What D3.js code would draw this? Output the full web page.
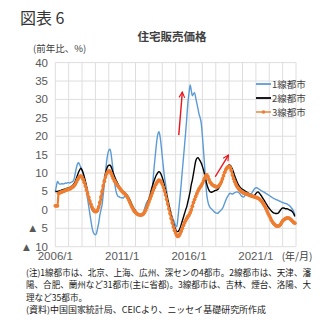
<!DOCTYPE html>
<html lang="ja">
<head>
<meta charset="UTF-8">
<title>住宅販売価格</title>
<style>
    body { margin: 0; background: #fff; }
    text { font-family: "Liberation Sans", Arial, "Noto Sans CJK JP", sans-serif; }
    .jp { font-family: "Noto Sans CJK JP", sans-serif; }
</style>
</head>
<body>
<script src="https://cdn.jsdelivr.net/npm/d3@7"></script>
<script>
    // monthly series, 2006/1 .. 2023/12 (前年比, %)
    var tier1 = [
        5.0, 6.5, 7.7, 7.3, 7.0, 7.0, 7.2, 7.0, 7.1, 7.3, 7.2, 7.4,
        7.4, 7.3, 7.5, 7.6, 7.8, 8.5, 10.0, 11.5, 12.5, 12.8, 12.2, 11.5,
        10.8, 9.8, 8.5, 6.8, 5.0, 3.0, 1.0, -1.0, -3.0, -4.8, -6.0, -6.6,
        -6.8, -6.3, -5.0, -3.5, -1.5, 0.0, 1.3, 4.0, 7.0, 10.0, 13.0, 15.0,
        16.2, 16.5, 15.5, 13.0, 10.5, 8.0, 6.0, 4.5, 3.8, 3.6, 3.4, 3.3,
        3.3, 3.2, 3.6, 4.2, 4.0, 3.6, 3.0, 2.4, 1.6, 0.9, 0.3, -0.3,
        -0.7, -1.0, -1.2, -1.3, -1.3, -1.2, -1.0, -0.6, 0.2, 1.2, 2.0, 2.5,
        2.5, 3.0, 4.0, 5.5, 9.0, 12.5, 15.5, 18.5, 20.5, 21.2, 20.0, 17.5,
        14.5, 11.5, 9.0, 7.0, 5.0, 3.0, 1.5, 0.3, -1.0, -2.0, -2.7, -3.5,
        -4.3, -4.6, -2.5, 0.5, 3.5, 7.0, 10.5, 14.0, 17.5, 21.0, 25.0, 29.0,
        31.7, 33.9, 32.5, 31.0, 31.5, 31.8, 30.5, 29.0, 27.5, 26.0, 25.0, 23.5,
        20.0, 16.0, 12.0, 7.5, 4.0, 2.2, 1.2, 0.6, 0.3, 0.0, -0.3, -0.6,
        -0.8, -0.9, -0.9, -0.6, -0.3, 0.0, 0.4, 1.0, 1.8, 2.6, 3.3, 3.8,
        4.3, 4.5, 4.4, 4.3, 4.5, 4.7, 4.8, 4.9, 4.8, 4.6, 4.2, 3.8,
        3.6, 3.5, 3.8, 4.2, 4.1, 3.9, 3.8, 4.0, 4.4, 4.9, 5.4, 5.8,
        6.0, 6.0, 5.8, 5.6, 5.4, 5.2, 5.0, 4.9, 4.7, 4.5, 4.3, 4.1,
        3.9, 3.7, 3.5, 3.3, 3.1, 3.0, 2.8, 2.7, 2.6, 2.4, 2.3, 2.1,
        2.0, 1.9, 1.8, 1.7, 1.6, 1.4, 1.2, 0.9, 0.5, 0.1, -0.5, -1.4
    ];
    var tier2 = [
        5.0, 5.0, 5.0, 5.1, 5.2, 5.3, 5.4, 5.5, 5.6, 5.7, 5.8, 5.9,
        6.0, 6.1, 6.3, 6.5, 6.8, 7.2, 7.8, 8.6, 9.5, 10.3, 10.9, 11.3,
        10.8, 10.0, 9.0, 7.8, 6.5, 5.0, 3.5, 2.2, 1.0, 0.2, -0.3, -0.5,
        -0.6, -0.5, -0.3, 0.5, 1.5, 3.0, 4.8, 6.5, 8.2, 9.8, 11.0, 11.8,
        12.1, 12.2, 11.8, 11.0, 10.0, 9.2, 8.5, 7.8, 7.2, 6.6, 6.0, 5.5,
        5.2, 5.0, 4.8, 4.5, 4.2, 3.8, 3.3, 2.7, 2.0, 1.3, 0.7, 0.2,
        -0.2, -0.6, -0.9, -1.2, -1.3, -1.4, -1.3, -1.0, -0.5, 0.2, 1.0, 2.0,
        3.0, 4.0, 5.2, 6.3, 7.3, 8.2, 9.0, 9.6, 10.1, 10.4, 10.2, 9.6,
        8.8, 7.8, 6.6, 5.3, 4.0, 2.7, 1.3, 0.0, -1.3, -2.6, -3.7, -4.6,
        -5.3, -5.8, -5.9, -5.6, -5.0, -4.0, -3.0, -2.0, -1.0, 0.0, 0.9, 2.2,
        3.5, 5.0, 6.8, 8.1, 9.8, 11.6, 13.2, 14.0, 14.2, 13.8, 13.3, 12.7,
        11.8, 10.8, 9.6, 8.3, 7.0, 6.0, 5.3, 4.9, 4.8, 4.9, 5.0, 5.2,
        5.3, 5.4, 5.6, 6.0, 6.8, 7.6, 8.5, 9.3, 10.2, 11.0, 11.6, 12.0,
        12.2, 12.1, 11.7, 11.0, 10.2, 9.3, 8.5, 7.7, 7.0, 6.5, 6.1, 5.8,
        5.6, 5.4, 5.2, 5.0, 4.8, 4.6, 4.4, 4.2, 4.0, 3.8, 3.8, 4.0,
        4.4, 4.8, 4.9, 4.6, 4.2, 3.8, 3.3, 2.8, 2.3, 1.8, 1.3, 0.8,
        0.4, 0.0, -0.3, -0.6, -0.8, -0.9, -1.0, -1.0, -0.9, -0.5, -0.1, 0.3,
        0.5, 0.5, 0.4, 0.3, 0.3, 0.2, 0.0, -0.1, -0.3, -0.6, -1.1, -1.8
    ];
    var tier3 = [
        1.1, 1.1, 1.1, 4.5, 4.6, 4.8, 4.9, 5.0, 5.1, 5.3, 5.4, 5.5,
        5.6, 5.7, 5.9, 6.1, 6.3, 6.6, 7.0, 7.6, 8.2, 8.7, 9.1, 9.2,
        8.9, 8.3, 7.5, 6.5, 5.5, 4.4, 3.4, 2.4, 1.5, 0.7, 0.1, -0.3,
        -0.5, -0.4, 0.0, 0.8, 2.0, 3.5, 5.0, 6.5, 7.8, 8.9, 9.8, 10.3,
        10.6, 10.5, 10.0, 9.3, 8.6, 8.0, 7.5, 7.0, 6.6, 6.2, 5.8, 5.4,
        5.0, 4.7, 4.5, 4.2, 3.8, 3.3, 2.7, 2.0, 1.3, 0.7, 0.1, -0.4,
        -0.7, -1.0, -1.2, -1.3, -1.4, -1.4, -1.3, -1.1, -0.7, -0.1, 0.6, 1.4,
        2.2, 3.0, 3.8, 4.6, 5.4, 6.1, 6.8, 7.3, 7.8, 8.1, 8.0, 7.6,
        7.0, 6.2, 5.2, 4.1, 2.9, 1.6, 0.3, -1.0, -2.3, -3.5, -4.6, -5.5,
        -6.3, -6.9, -7.2, -7.0, -6.5, -5.8, -5.0, -4.2, -3.5, -2.9, -2.3, -1.8,
        -1.4, -0.8, 0.0, 1.0, 2.0, 2.8, 3.6, 4.4, 5.1, 5.7, 6.2, 6.6,
        7.2, 7.9, 8.6, 9.3, 9.5, 9.0, 8.2, 7.5, 7.1, 6.8, 6.6, 6.5,
        6.3, 6.2, 6.3, 6.6, 7.0, 7.6, 8.4, 9.3, 10.2, 10.9, 11.4, 11.7,
        11.8, 11.5, 10.7, 9.5, 8.5, 7.7, 7.0, 6.4, 6.0, 5.6, 5.3, 5.0,
        4.8, 4.6, 4.5, 4.4, 4.3, 4.2, 4.0, 3.9, 3.8, 3.7, 3.6, 3.5,
        3.4, 3.3, 3.2, 3.0, 2.7, 2.4, 2.0, 1.5, 1.0, 0.4, -0.3, -1.0,
        -1.6, -2.2, -2.8, -3.3, -3.7, -4.0, -4.3, -4.4, -4.4, -4.3, -4.0, -3.5,
        -3.0, -2.7, -2.5, -2.3, -2.2, -2.2, -2.3, -2.5, -2.8, -3.1, -3.4, -3.6
    ];
    var seriesNames = ["1線都市", "2線都市", "3線都市"];
    var yTicks = [40, 35, 30, 25, 20, 15, 10, 5, 0, -5, -10];
    var xLabelYears = [2006, 2011, 2016, 2021];
    // red annotation arrows: [year, month offset, value] tail -> head
    var arrows = [
        [[2015, 2.8, 20.3], [2015, 6.0, 32.0]],
        [[2017, 11.5, 9.0], [2018, 11.4, 14.9]]
    ];
    var notes = [
        "(注)1線都市は、北京、上海、広州、深センの4都市。2線都市は、天津、瀋",
        "陽、合肥、蘭州など31都市(主に省都)。3線都市は、吉林、煙台、洛陽、大",
        "理など35都市。",
        "(資料)中国国家統計局、CEICより、ニッセイ基礎研究所作成"
    ];

    var w = 331, h = 332;
    var pLeft = 55.3, pRight = 296, pTop = 62.6, pBottom = 246.7;

    var months = d3.range(tier1.length).map(function(i) { return new Date(2006, i, 1); });

    var xScale = d3.scaleTime()
        .domain([new Date(2006, 0, 1), new Date(2024, 0, 1)])
        .range([pLeft, pRight]);
    var yScale = d3.scaleLinear()
        .domain([-10, 40])
        .range([pBottom, pTop]);

    var svg = d3.select("body").append("svg")
        .attr("width", w)
        .attr("height", h);

    svg.append("rect").attr("width", w).attr("height", h).attr("fill", "#fff");

    svg.append("defs").append("marker")
        .attr("id", "head")
        .attr("viewBox", "0 0 10 10")
        .attr("refX", 9).attr("refY", 5)
        .attr("markerWidth", 7).attr("markerHeight", 7)
        .attr("markerUnits", "userSpaceOnUse")
        .attr("orient", "auto")
        .append("path")
        .attr("d", "M1,1 L9,5 L1,9")
        .attr("fill", "none")
        .attr("stroke", "#e8141b")
        .attr("stroke-width", 1.6);

    // gridlines
    var years = d3.range(2006, 2025);
    svg.append("g").selectAll("line")
        .data(years).enter().append("line")
        .attr("x1", function(d) { return xScale(new Date(d, 0, 1)); })
        .attr("x2", function(d) { return xScale(new Date(d, 0, 1)); })
        .attr("y1", pTop).attr("y2", pBottom)
        .attr("stroke", "#dedede").attr("stroke-width", 1);
    svg.append("g").selectAll("line")
        .data(yTicks).enter().append("line")
        .attr("x1", pLeft).attr("x2", pRight)
        .attr("y1", function(d) { return yScale(d); })
        .attr("y2", function(d) { return yScale(d); })
        .attr("stroke", "#dedede").attr("stroke-width", 1);

    // y labels
    svg.append("g").selectAll("text")
        .data(yTicks).enter().append("text")
        .attr("x", 48)
        .attr("y", function(d) { return yScale(d) + 4; })
        .attr("text-anchor", "end")
        .attr("font-size", "11.5px")
        .attr("fill", "#595959")
        .text(function(d) { return d < 0 ? "▲ " + (-d) : d; });

    // x labels
    svg.append("g").selectAll("text")
        .data(xLabelYears).enter().append("text")
        .attr("x", function(d) { return xScale(new Date(d, 0, 1)); })
        .attr("y", 260)
        .attr("text-anchor", "middle")
        .attr("font-size", "11.5px")
        .attr("fill", "#595959")
        .text(function(d) { return d + "/1"; });
    svg.append("text").attr("class", "jp")
        .attr("x", 297).attr("y", 260)
        .attr("text-anchor", "middle")
        .attr("font-size", "10px")
        .attr("fill", "#404040")
        .text("(年/月)");

    var line = function(vals) {
        return d3.line()
            .x(function(d, i) { return xScale(months[i]); })
            .y(function(d) { return yScale(d); })
            .curve(d3.curveMonotoneX)(vals);
    };

    var colors = ["#5b9bd5", "#000000", "#ed7d31"];
    var widths = [1.4, 1.4, 2.2];
    [tier1, tier2, tier3].forEach(function(s, k) {
        svg.append("path")
            .attr("d", line(s))
            .attr("fill", "none")
            .attr("stroke", colors[k])
            .attr("stroke-width", widths[k])
            .attr("stroke-linejoin", "round");
    });
    svg.append("g").selectAll("circle")
        .data(tier3).enter().append("circle")
        .attr("cx", function(d, i) { return xScale(months[i]); })
        .attr("cy", function(d) { return yScale(d); })
        .attr("r", 1.9)
        .attr("fill", colors[2]);

    // arrows
    var yearW = xScale(new Date(2007, 0, 1)) - xScale(new Date(2006, 0, 1));
    var pt = function(p) { return [xScale(new Date(p[0], 0, 1)) + p[1] * yearW / 12, yScale(p[2])]; };
    svg.append("g").selectAll("line")
        .data(arrows).enter().append("line")
        .attr("x1", function(d) { return pt(d[0])[0]; })
        .attr("y1", function(d) { return pt(d[0])[1]; })
        .attr("x2", function(d) { return pt(d[1])[0]; })
        .attr("y2", function(d) { return pt(d[1])[1]; })
        .attr("stroke", "#e8141b")
        .attr("stroke-width", 1.4)
        .attr("marker-end", "url(#head)");

    // legend
    var lg = svg.append("g").selectAll("g")
        .data(seriesNames).enter().append("g")
        .attr("transform", function(d, i) { return "translate(256," + (84 + i * 14) + ")"; });
    lg.append("line")
        .attr("x1", 0).attr("x2", 15)
        .attr("stroke", function(d, i) { return colors[i]; })
        .attr("stroke-width", function(d, i) { return i == 2 ? 1.4 : 1.8; });
    lg.filter(function(d, i) { return i == 2; }).append("circle")
        .attr("cx", 7.5).attr("r", 1.8).attr("fill", colors[2]);
    lg.append("text").attr("class", "jp")
        .attr("x", 16).attr("y", 3.5)
        .attr("font-size", "9.5px")
        .attr("fill", "#404040")
        .text(function(d) { return d; });

    // titles
    svg.append("text").attr("class", "jp")
        .attr("x", 20).attr("y", 24)
        .attr("font-size", "16px")
        .attr("fill", "#333")
        .text("図表 6");
    svg.append("text").attr("class", "jp")
        .attr("x", 172).attr("y", 41)
        .attr("text-anchor", "middle")
        .attr("font-size", "11.5px")
        .attr("font-weight", "bold")
        .attr("fill", "#404040")
        .text("住宅販売価格");
    svg.append("text").attr("class", "jp")
        .attr("x", 33).attr("y", 52)
        .attr("font-size", "9.5px")
        .attr("fill", "#404040")
        .text("(前年比、%)");

    // notes
    var noteLen = [285, 285, null, 240];
    svg.append("g").selectAll("text")
        .data(notes).enter().append("text").attr("class", "jp")
        .attr("x", 26)
        .attr("y", function(d, i) { return 276 + i * 12.3; })
        .attr("font-size", "8.6px")
        .attr("fill", "#1a1a1a")
        .attr("textLength", function(d, i) { return noteLen[i]; })
        .attr("lengthAdjust", "spacingAndGlyphs")
        .text(function(d) { return d; });
</script>
</body>
</html>
